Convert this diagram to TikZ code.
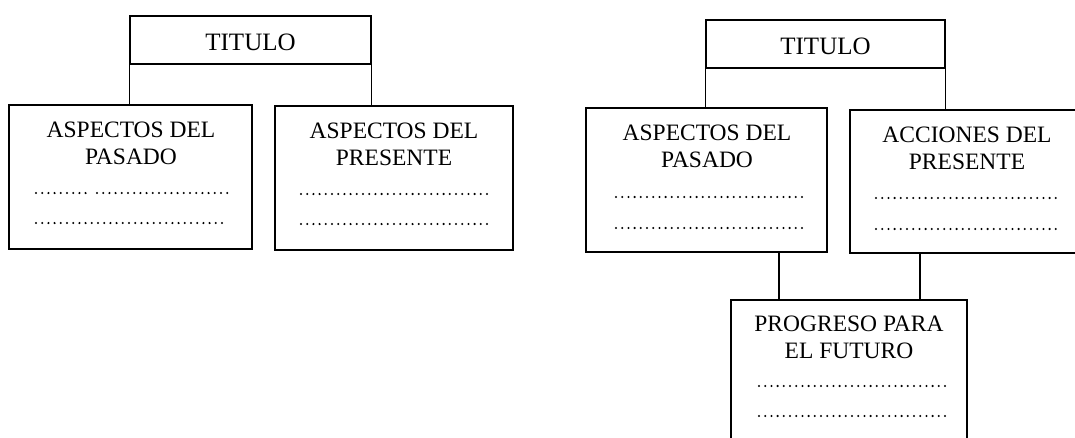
\documentclass[tikz,border=0pt]{standalone}
\usepackage{fontspec}
\setmainfont{Liberation Serif}
\begin{document}
\begin{tikzpicture}[x=1pt,y=-1pt,
  box/.style={draw, line width=1.3pt, inner sep=0pt},
  link/.style={line width=1.3pt},
  lbl/.style={align=center, inner sep=0pt, font=\fontsize{23.5}{27}\selectfont},
  ttl/.style={inner sep=0pt, font=\fontsize{25}{28}\selectfont},
  dotrow/.style={line width=2.3pt, line cap=round, dash pattern=on 0pt off 6.2pt}]
\useasboundingbox (0,0) rectangle (1075,437);
\clip (0,0) rectangle (1075,437);
\fill[white] (0,0) rectangle (1075,437);
% ---------- left diagram ----------
\node[box, minimum width=241pt, minimum height=48pt] (t1) at (250.5,40) {};
\node[ttl] (t1t) at (250.5,42) {TITULO};
\node[box, minimum width=243pt, minimum height=144pt] (a1) at (130.5,177) {};
\node[lbl] (a1t) at (131,143.5) {ASPECTOS DEL\\PASADO};
\node[box, minimum width=238pt, minimum height=144pt] (b1) at (394,178) {};
\node[lbl] (b1t) at (394,144) {ASPECTOS DEL\\PRESENTE};
\draw[link] (t1.south west) -- (t1.south west |- a1.north);
\draw[link] (t1.south east) -- (t1.south east |- b1.north);
\draw[dotrow] (36,193) -- (86,193);
\draw[dotrow] (97,193) -- (228,193);
\draw[dotrow] (36,223) -- (228,223);
\draw[dotrow] (301,194) -- (489,194);
\draw[dotrow] (301,224) -- (489,224);
% ---------- right diagram ----------
\node[box, minimum width=239pt, minimum height=48pt] (t2) at (825.5,44) {};
\node[ttl] (t2t) at (825.5,46) {TITULO};
\node[box, minimum width=241pt, minimum height=144pt] (a2) at (706.5,180) {};
\node[lbl] (a2t) at (707,146.5) {ASPECTOS DEL\\PASADO};
\node[box, minimum width=234pt, minimum height=143pt] (b2) at (967,181.5) {};
\node[lbl] (b2t) at (967,148.5) {ACCIONES DEL\\PRESENTE};
\node[box, minimum width=236pt, minimum height=170pt] (c2) at (849,385) {};
\node[lbl] (c2t) at (849,337.5) {PROGRESO PARA\\EL FUTURO};
\draw[link] (t2.south west) -- (t2.south west |- a2.north);
\draw[link] (t2.south east) -- (t2.south east |- b2.north);
\draw[link] (a2.south -| 779,0) -- (c2.north -| 779,0);
\draw[link] (b2.south -| 920,0) -- (c2.north -| 920,0);
\draw[dotrow] (616,197) -- (806,197);
\draw[dotrow] (616,228) -- (806,228);
\draw[dotrow] (876,198) -- (1060,198);
\draw[dotrow] (876,229) -- (1060,229);
\draw[dotrow] (759,386) -- (945,386);
\draw[dotrow] (759,416) -- (945,416);
\end{tikzpicture}
\end{document}
